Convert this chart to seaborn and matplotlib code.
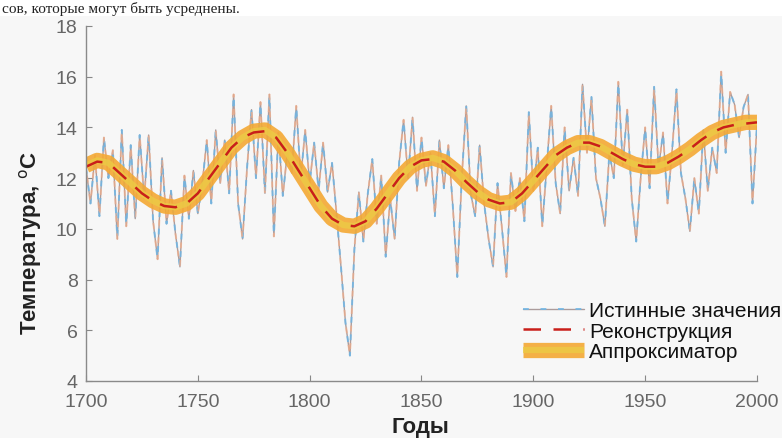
import matplotlib
matplotlib.use("Agg")
import matplotlib.pyplot as plt
from matplotlib.patches import Rectangle
from matplotlib.legend_handler import HandlerTuple
import numpy as np
import pandas as pd
import seaborn as sns

# true values, every 2 years
true_years = list(range(1700, 2001, 2))
true_vals = [
    12.4, 11.0, 12.9, 10.5, 13.6, 12.0, 13.1, 9.6, 13.9, 10.1,
    13.3, 10.4, 13.7, 11.2, 13.7, 10.3, 8.8, 12.8, 10.2, 11.5,
    9.8, 8.5, 12.1, 10.4, 12.3, 10.6, 11.8, 13.5, 11.0, 13.9,
    11.8, 13.5, 11.4, 15.3, 11.0, 9.6, 12.4, 14.7, 12.0, 15.0,
    11.4, 15.3, 9.7, 13.8, 11.3, 13.0, 12.2, 14.85, 12.0, 13.9,
    11.8, 13.4, 11.5, 13.4, 11.45, 12.6, 10.6, 8.5, 6.3, 5.0,
    9.2, 11.45, 9.5, 11.4, 12.75, 10.2, 12.1, 8.9, 11.2, 9.6,
    12.6, 14.3, 12.0, 14.4, 11.5, 13.6, 11.7, 13.0, 10.5, 13.5,
    11.6, 13.3, 10.9, 8.1, 12.0, 14.85, 11.4, 10.5, 13.3, 11.0,
    9.6, 8.5, 11.8, 10.0, 8.1, 12.2, 10.7, 12.0, 10.3, 14.6,
    11.5, 13.2, 10.1, 12.5, 14.85, 11.8, 10.6, 14.0, 11.5, 12.8,
    11.3, 15.7, 13.0, 15.2, 12.0, 11.2, 10.1, 13.0, 12.0, 15.8,
    12.5, 14.7, 11.2, 9.5, 12.0, 14.0, 11.6, 15.6, 12.4, 13.8,
    11.0, 13.0, 15.5, 12.2, 11.2, 9.9, 12.0, 10.6, 13.9, 11.5,
    13.2, 12.2, 16.2, 13.0, 15.4, 14.9, 13.6, 14.8, 15.3, 11.0,
    14.1,
]

# smooth curves, every 5 years
smooth_years = list(range(1700, 2001, 5))
approx_vals = [
    12.5, 12.7, 12.6, 12.2, 11.8, 11.4, 11.1, 10.9, 10.85, 11.0,
    11.4, 12.0, 12.6, 13.2, 13.6, 13.85, 13.9, 13.6, 13.0, 12.3,
    11.6, 10.9, 10.4, 10.15, 10.1, 10.3, 10.8, 11.4, 12.0, 12.45,
    12.7, 12.8, 12.65, 12.3, 11.85, 11.45, 11.15, 11.0, 11.05, 11.4,
    11.9, 12.4, 12.9, 13.2, 13.4, 13.4, 13.25, 13.0, 12.75, 12.55,
    12.45, 12.45, 12.6, 12.85, 13.15, 13.5, 13.8, 14.0, 14.1, 14.2,
    14.2,
]
recon_vals = [
    12.45, 12.65, 12.6, 12.2, 11.8, 11.4, 11.1, 10.9, 10.85, 11.0,
    11.4, 12.0, 12.6, 13.2, 13.6, 13.8, 13.85, 13.6, 13.0, 12.3,
    11.6, 10.9, 10.4, 10.15, 10.1, 10.3, 10.8, 11.4, 12.0, 12.45,
    12.7, 12.75, 12.65, 12.3, 11.85, 11.45, 11.15, 11.0, 11.05, 11.4,
    11.9, 12.4, 12.9, 13.2, 13.4, 13.4, 13.25, 13.0, 12.75, 12.55,
    12.45, 12.45, 12.6, 12.85, 13.15, 13.5, 13.8, 14.0, 14.1, 14.15,
    14.2,
]

x_ticks = [1700, 1750, 1800, 1850, 1900, 1950, 2000]
y_ticks = [4, 6, 8, 10, 12, 14, 16, 18]

sns.set_theme(style="ticks")
plt.rcParams["font.family"] = ["Liberation Sans", "DejaVu Sans"]

bg = "#f7f7f7"
fig = plt.figure(figsize=(7.82, 4.39), dpi=100, facecolor=bg)
ax = fig.add_axes([0.110, 0.130, 0.858, 0.8085])
ax.set_facecolor(bg)

# white strip with the text line of the page above the figure
fig.add_artist(Rectangle((0, 0.962), 1, 0.04, transform=fig.transFigure,
                         facecolor="white", edgecolor="none", zorder=0))
fig.text(0.003, 0.996, "сов, которые могут быть усреднены.", fontsize=11,
         family=["Liberation Serif", "DejaVu Serif"], va="top",
         ha="left", color="#222222")

df_true = pd.DataFrame({"year": true_years, "t": true_vals})
df_s = pd.DataFrame({"year": smooth_years, "a": approx_vals, "r": recon_vals})

# true values: gray line with blue / salmon dashes on top
sns.lineplot(data=df_true, x="year", y="t", ax=ax, color="#ab9c9c", lw=1.0)
base = ax.lines[-1]
sns.lineplot(data=df_true, x="year", y="t", ax=ax, color="#6fb6e6", lw=1.4, alpha=0.85)
blue = ax.lines[-1]
blue.set_dashes((3, 6))
sns.lineplot(data=df_true, x="year", y="t", ax=ax, color="#f3ad88", lw=1.4, alpha=0.7)
sal = ax.lines[-1]
sal.set_dashes((0, 4.5, 3, 1.5))

# approximator: thick orange band with yellow core
sns.lineplot(data=df_s, x="year", y="a", ax=ax, color="#f4a934", lw=11, alpha=0.9)
outer = ax.lines[-1]
outer.set_solid_capstyle("butt")
sns.lineplot(data=df_s, x="year", y="a", ax=ax, color="#eccb45", lw=4.5, alpha=0.8)
inner = ax.lines[-1]
inner.set_solid_capstyle("butt")

# reconstruction: red dashed
sns.lineplot(data=df_s, x="year", y="r", ax=ax, color="#c91f1a", lw=1.8)
red = ax.lines[-1]
red.set_dashes((7, 5))

ax.set_xlim(1700, 2000)
ax.set_ylim(4, 18)
ax.set_xticks(x_ticks)
ax.set_yticks(y_ticks)
ax.tick_params(direction="in", length=4, width=0.8, colors="#888888",
               labelcolor="#666666", labelsize=14)
ax.tick_params(axis="x", pad=9)
ax.tick_params(axis="y", pad=6)
for s in ["top", "right"]:
    ax.spines[s].set_visible(False)
for s in ["left", "bottom"]:
    ax.spines[s].set_color("#8a8a8a")
    ax.spines[s].set_linewidth(1.0)

ax.set_xlabel("Годы", fontsize=16, fontweight="bold", color="#222222")
ax.xaxis.set_label_coords(0.498, -0.098)
ax.set_ylabel("Температура, $^{\\mathrm{o}}$C", fontsize=16, fontweight="bold",
              color="#222222")
ax.yaxis.set_label_coords(-0.062, 0.39)

ax.legend([(base, blue), red, (outer, inner)],
          ["Истинные значения", "Реконструкция", "Аппроксиматор"],
          handler_map={tuple: HandlerTuple(ndivide=1, pad=0)},
          loc="lower right", bbox_to_anchor=(1.036, 0.055), frameon=False,
          fontsize=15, handlelength=2.9, handletextpad=0.25,
          labelspacing=0.08, borderaxespad=0, borderpad=0,
          labelcolor="#111111")

fig.savefig("out.png", dpi=100, facecolor=bg)
